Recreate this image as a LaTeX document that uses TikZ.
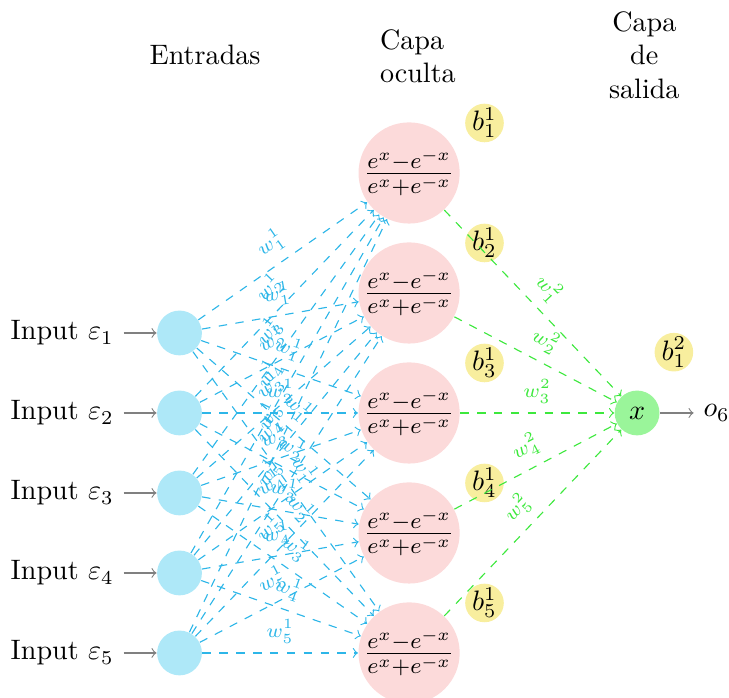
\documentclass[tikz,border=0pt]{standalone}
\usepackage{tikz}
\usetikzlibrary{positioning}
\definecolor{myinputcolor}{HTML}{AEE8F8}
\definecolor{myhiddencolor}{HTML}{FCDADA}
\definecolor{myoutputcolor}{HTML}{9AF59A}
\definecolor{mybiascolor}{HTML}{F8EE9E}
\definecolor{myinedgecolor}{HTML}{2DB6E8}
\definecolor{myoutedgecolor}{HTML}{3DE83D}

\begin{document}
\begin{tikzpicture}[
  inputneuron/.style={circle, fill=myinputcolor, minimum size=0.56cm, inner sep=0pt},
  hiddenneuron/.style={circle, fill=myhiddencolor, minimum size=1.16cm, inner sep=0pt},
  outputneuron/.style={circle, fill=myoutputcolor, minimum size=0.56cm, inner sep=0pt},
  biasneuron/.style={circle, fill=mybiascolor, minimum size=0.46cm, inner sep=0pt},
  inedge/.style={->, dashed, myinedgecolor},
  outedge/.style={->, dashed, myoutedgecolor},
  weight/.style={sloped, above, midway, font=\scriptsize}]%
\useasboundingbox (-2.244,-2.5625) rectangle (6.869,6.1625);%
% entradas
\foreach \i in {1,...,5}
  \node[inputneuron] (I-\i) at (0, 3-\i) {};%
\foreach \i in {1,...,5}
  \node[left=0.41cm of I-\i] (L-\i) {Input $\varepsilon_{\i}$};%
\foreach \i in {1,...,5}
  \draw[->, gray] (L-\i) -- (I-\i);%
% capa oculta
\foreach \i in {1,...,5}
  \node[hiddenneuron] (H-\i) at (2.87, 5.5-1.5*\i) {\large$\frac{e^x-e^{-x}}{e^x+e^{-x}}$};%
\foreach \i in {1,...,5}
  \node[biasneuron] (B-\i) at (3.8125, 6.125-1.5*\i) {$b^1_{\i}$};%
% capa de salida
\node[outputneuron] (O) at (5.72, 1) {$x$};%
\node[biasneuron] (B-6) at (6.18, 1.76) {$b^2_1$};%
\node[right=0.42cm of O] (out) {$o_6$};%
\draw[->, gray] (O) -- (out);%
% pesos
\foreach \s in {1,...,5}
  \foreach \d in {1,...,5}
    \draw[inedge] (I-\s) -- node[weight] {$w^1_{\s}$} (H-\d);%
\foreach \s in {1,...,5}
  \draw[outedge] (H-\s) -- node[weight] {$w^2_{\s}$} (O);%
% titulos
\node (hd-in) at (0.32, 5.475) {Entradas};%
\node[align=left] (hd-hid) at (2.98, 5.46) {Capa\\oculta};%
\node[align=center] (hd-out) at (5.81, 5.475) {Capa\\de\\salida};%
\end{tikzpicture}
\end{document}
